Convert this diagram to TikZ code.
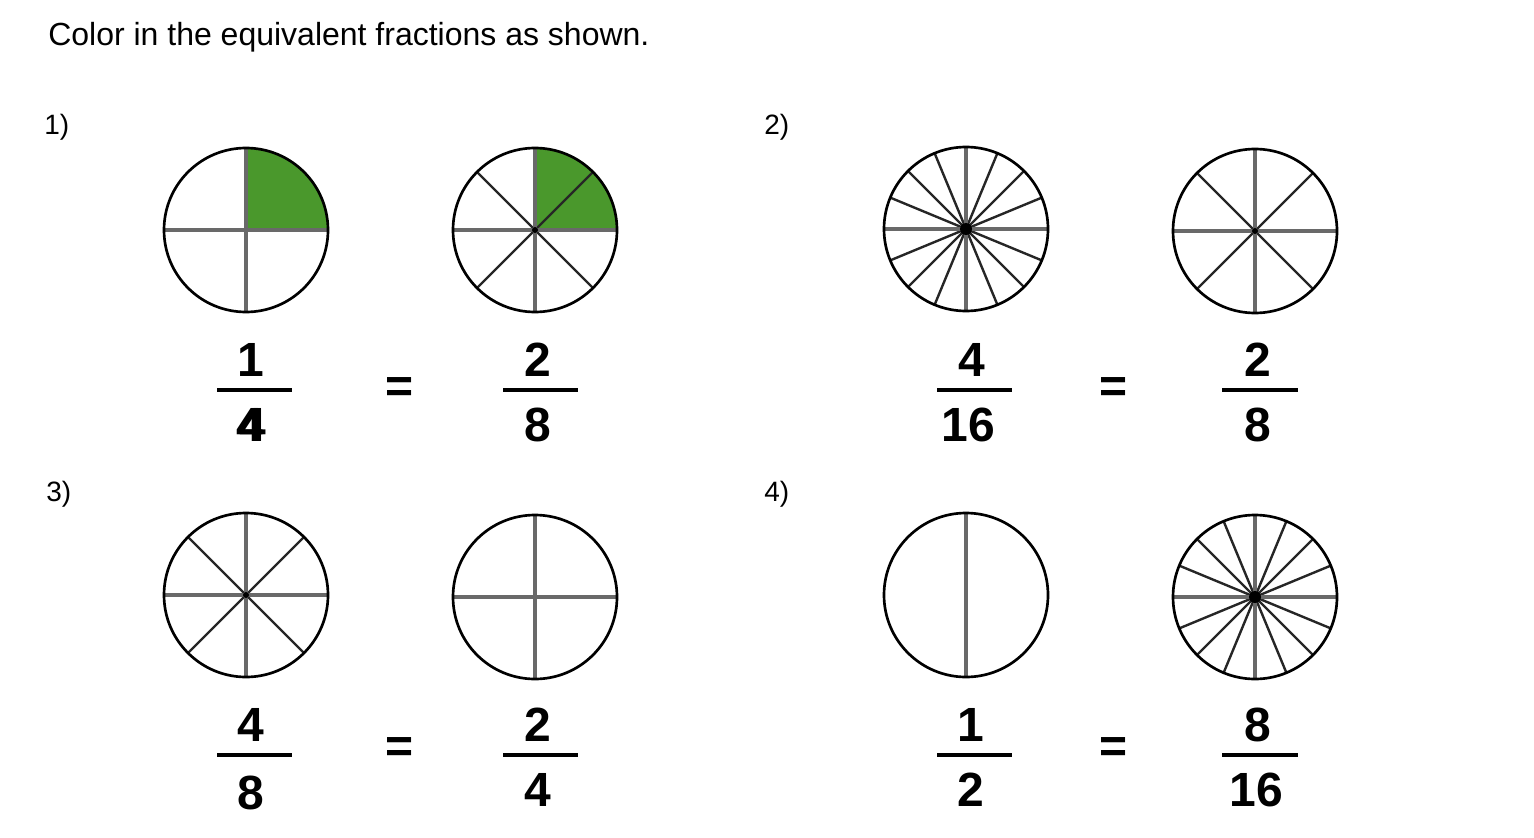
\documentclass[tikz,border=0pt]{standalone}
\usepackage{fontspec}
\setmainfont{Liberation Sans}
\usepackage{tikz}
\usetikzlibrary{calc}
\usepackage{xcolor}
\definecolor{fillcol}{RGB}{74,152,44}
\definecolor{spokecol}{RGB}{105,105,105}
\tikzset{
  % circle outline
  rim/.style={draw=black, line width=2pt},
  % horizontal and vertical spokes
  mainspoke/.style={draw=spokecol, line width=2.3pt},
  % the other spokes
  thinspoke/.style={draw=black!85, line width=1.8pt},
  % fraction digits
  digit/.style={font=\fontsize{36}{40}\selectfont\bfseries, inner sep=0pt},
  % fraction bar
  fracbar/.style={line width=3pt},
  % problem number
  qlabel/.style={font=\fontsize{21}{24}\selectfont, inner sep=0pt, anchor=west},
  % title line
  title/.style={font=\fontsize{24}{28}\selectfont, inner sep=0pt, anchor=west},
}

\begin{document}
\begin{tikzpicture}[x=0.75pt,y=0.75pt]
  \useasboundingbox (0,0) rectangle (1534,-838);

  \node[title] (title) at (48,-37) {Color in the equivalent fractions as shown.};
  \node[qlabel] (q1) at (44,-127) {1)};
  \node[qlabel] (q2) at (764,-127) {2)};
  \node[qlabel] (q3) at (46,-494) {3)};
  \node[qlabel] (q4) at (764,-494) {4)};

  % shaded parts
  \fill[fillcol] (246,-230) -- ++(0:82) arc[start angle=0, end angle=90, radius=82] -- cycle;
  \fill[fillcol] (535,-230) -- ++(0:82) arc[start angle=0, end angle=90, radius=82] -- cycle;

  % circles: name/x/y/parts/dot
  \foreach \w/\cx/\cy/\n/\d in {w1/246/230/4/0, w2/535/230/8/3, w3/966/229/16/6, w4/1255/231/8/3,
                                w5/246/595/8/3, w6/535/597/4/0, w7/966/595/2/0, w8/1255/597/16/6} {
    \coordinate (\w) at (\cx,-\cy);
    \pgfmathsetmacro\stp{360/\n}
    \pgfmathsetmacro\nxt{90+\stp}
    \foreach \a in {90,\nxt,...,449} \draw[thinspoke] (\w) -- ++(\a:82);
    \ifnum\n>2
      \foreach \a in {0,90,180,270} \draw[mainspoke] (\w) -- ++(\a:82);
    \else
      \draw[mainspoke] (\w) ++(90:82) -- ++(270:164);
    \fi
    \ifnum\d>0 \fill (\w) circle[radius=\d]; \fi
    \draw[rim] (\w) circle[radius=82];
  }

  % 1) 1/4 = 2/8
  \node[digit] (n1) at (251,-360) {1};
  \node[digit] (d1) at (251,-425) {\rlap{4}\kern2.2pt 4};
  \draw[fracbar] (217,-390) -- (292,-390);
  \node[digit] (eq1) at (400,-390) {=};
  \node[digit] (n2) at (538,-360) {2};
  \node[digit] (d2) at (538,-425) {8};
  \draw[fracbar] (503,-390) -- (578,-390);

  % 2) 4/16 = 2/8
  \node[digit] (n3) at (972,-360) {4};
  \node[digit] (d3) at (968,-425) {16};
  \draw[fracbar] (937,-390) -- (1012,-390);
  \node[digit] (eq2) at (1113,-390) {=};
  \node[digit] (n4) at (1258,-360) {2};
  \node[digit] (d4) at (1258,-425) {8};
  \draw[fracbar] (1222,-390) -- (1298,-390);

  % 3) 4/8 = 2/4
  \node[digit] (n5) at (251,-725) {4};
  \node[digit] (d5) at (251,-793) {8};
  \draw[fracbar] (217,-755) -- (292,-755);
  \node[digit] (eq3) at (400,-750) {=};
  \node[digit] (n6) at (538,-725) {2};
  \node[digit] (d6) at (538,-790) {4};
  \draw[fracbar] (503,-755) -- (578,-755);

  % 4) 1/2 = 8/16
  \node[digit] (n7) at (971,-725) {1};
  \node[digit] (d7) at (971,-790) {2};
  \draw[fracbar] (937,-755) -- (1012,-755);
  \node[digit] (eq4) at (1113,-750) {=};
  \node[digit] (n8) at (1258,-725) {8};
  \node[digit] (d8) at (1256,-790) {16};
  \draw[fracbar] (1222,-755) -- (1298,-755);
\end{tikzpicture}
\end{document}
